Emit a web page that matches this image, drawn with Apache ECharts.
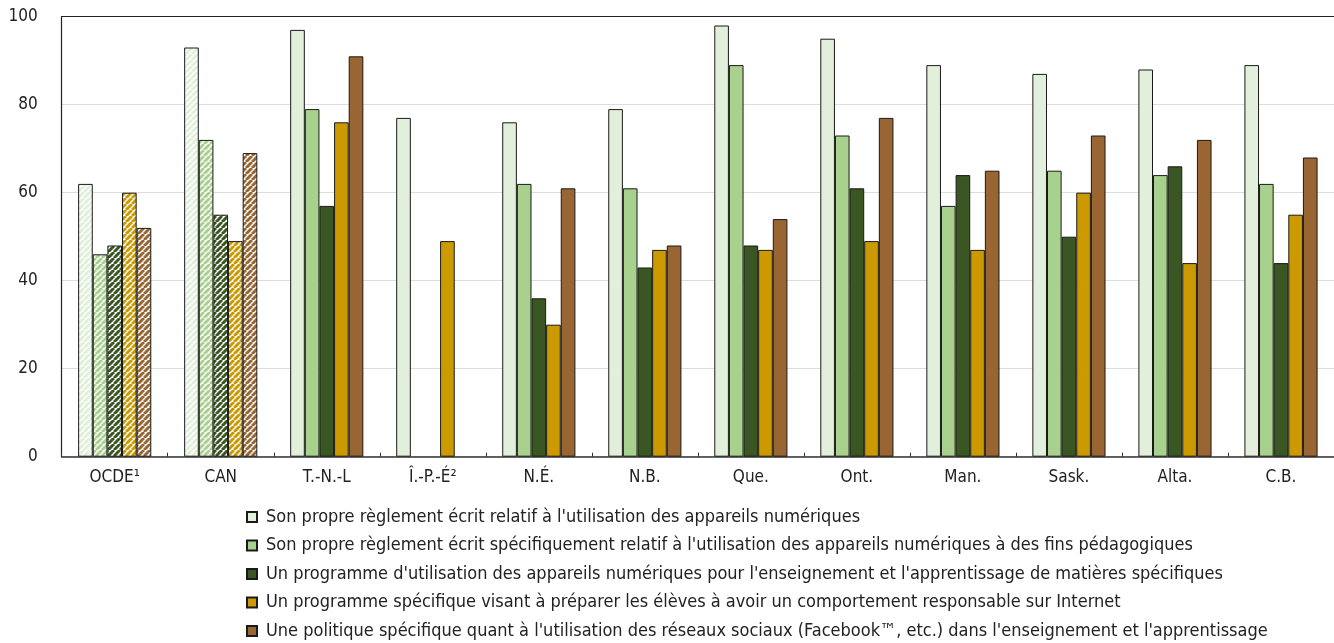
<!DOCTYPE html>
<html>
<head>
<meta charset="utf-8">
<script src="https://cdn.jsdelivr.net/npm/echarts@6/dist/echarts.min.js"></script>
<style>
html,body{margin:0;padding:0;background:#fff;}
#chart{width:1334px;height:643px;}
</style>
</head>
<body>
<div id="chart"></div>
<script>
const categories = ['OCDE¹','CAN','T.-N.-L','Î.-P.-É²','N.É.','N.B.','Que.','Ont.','Man.','Sask.','Alta.','C.B.'];
const seriesNames = [
  "Son propre règlement écrit relatif à l'utilisation des appareils numériques",
  "Son propre règlement écrit spécifiquement relatif à l'utilisation des appareils numériques à des fins pédagogiques",
  "Un programme d'utilisation des appareils numériques pour l'enseignement et l'apprentissage de matières spécifiques",
  "Un programme spécifique visant à préparer les élèves à avoir un comportement responsable sur Internet",
  "Une politique spécifique quant à l'utilisation des réseaux sociaux (Facebook™, etc.) dans l'enseignement et l'apprentissage"
];
const s1 = [62, 93, 97, 77, 76, 79, 98, 95, 89, 87, 88, 89];
const s2 = [46, 72, 79, null, 62, 61, 89, 73, 57, 65, 64, 62];
const s3 = [48, 55, 57, null, 36, 43, 48, 61, 64, 50, 66, 44];
const s4 = [60, 49, 76, 49, 30, 47, 47, 49, 47, 60, 44, 55];
const s5 = [52, 69, 91, null, 61, 48, 54, 77, 65, 73, 72, 68];
const hatchedCategories = ['OCDE¹','CAN'];
const yTicks = [0, 20, 40, 60, 80, 100];

const colors = ['#e2efda', '#a9d18e', '#3a5623', '#cc9900', '#996633'];
const FONT = '"Liberation Sans Narrow", "DejaVu Sans Condensed", "Roboto Condensed", sans-serif';

function hatch(color) {
  const size = 6;
  const c = document.createElement('canvas');
  c.width = size; c.height = size;
  const ctx = c.getContext('2d');
  ctx.fillStyle = '#ffffff';
  ctx.fillRect(0, 0, size, size);
  ctx.strokeStyle = color;
  ctx.lineWidth = 3;
  ctx.beginPath();
  for (let k = -1; k <= 1; k++) {
    ctx.moveTo(k * size, size);
    ctx.lineTo(k * size + size, 0);
  }
  ctx.stroke();
  return { image: c, repeat: 'repeat' };
}

const allData = [s1, s2, s3, s4, s5];
const series = allData.map((arr, i) => ({
  name: seriesNames[i],
  type: 'bar',
  xAxisIndex: 0,
  barGap: '0%',
  barCategoryGap: '31%',
  itemStyle: { color: colors[i], borderColor: '#1a1a1a', borderWidth: 1 },
  emphasis: { disabled: true },
  data: arr.map((v, j) => {
    if (hatchedCategories.includes(categories[j])) {
      return { value: v, itemStyle: { color: hatch(colors[i]) } };
    }
    return v;
  })
}));

const chart = echarts.init(document.getElementById('chart'), null, { renderer: 'canvas' });
chart.setOption({
  animation: false,
  textStyle: { fontFamily: FONT },
  grid: { left: 61.7, right: 0, top: 16.7, bottom: 186.3, containLabel: false },
  legend: {
    orient: 'vertical',
    left: 246,
    top: 508,
    height: 160,
    padding: 0,
    itemWidth: 10,
    itemHeight: 10,
    itemGap: 10.5,
    icon: 'rect',
    textStyle: { fontFamily: FONT, fontSize: 18, color: '#222', padding: [0, 0, 0, 4] },
    data: seriesNames
  },
  xAxis: [{
    type: 'category',
    data: categories,
    position: 'bottom',
    axisLine: { lineStyle: { color: '#333', width: 1.5 } },
    axisTick: { show: true, inside: true, length: 4, lineStyle: { color: '#333' } },
    axisLabel: { fontFamily: FONT, fontSize: 17, color: '#222', margin: 12 }
  }, {
    type: 'category',
    data: categories,
    position: 'top',
    axisLine: { show: true, lineStyle: { color: '#222', width: 1.2 } },
    axisTick: { show: false },
    axisLabel: { show: false }
  }],
  yAxis: {
    type: 'value',
    min: yTicks[0],
    max: yTicks[yTicks.length - 1],
    interval: 20,
    axisLine: { show: true, lineStyle: { color: '#222', width: 1.2 } },
    axisTick: { show: false },
    axisLabel: { fontFamily: FONT, fontSize: 17, color: '#222', margin: 24 },
    splitLine: { lineStyle: { color: '#dcdcdc', width: 1.2 } }
  },
  series: series
});
</script>
</body>
</html>
